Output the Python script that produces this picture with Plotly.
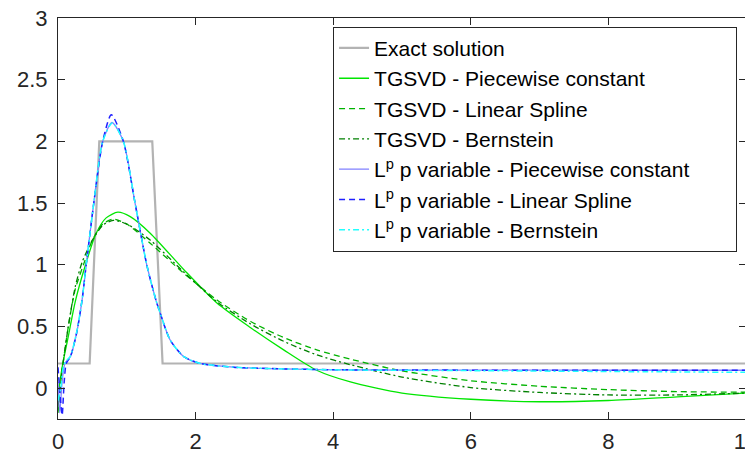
import plotly.graph_objects as go

# exact solution (piecewise constant pulse)
exact_x = [0, 0.46, 0.6, 1.37, 1.52, 10]
exact_y = [0.2, 0.2, 2.0, 2.0, 0.2, 0.2]

# TGSVD reconstructions
tg_pc_x = [0, 0.07, 0.15, 0.25, 0.4, 0.55, 0.7, 0.87, 1.05, 1.34, 1.83, 2.31, 2.8, 3.28, 3.76, 4.25, 5.0, 6.0, 7.0, 8.0, 9.0, 10]
tg_pc_y = [-0.05, 0.2, 0.42, 0.7, 1.0, 1.25, 1.38, 1.426, 1.39, 1.256, 0.96, 0.69, 0.49, 0.31, 0.145, 0.05, -0.04, -0.09, -0.11, -0.1, -0.07, -0.04]

tg_ls_x = [0, 0.05, 0.15, 0.25, 0.37, 0.5, 0.65, 0.8, 1.0, 1.34, 1.83, 2.31, 2.8, 3.28, 3.76, 4.25, 5.0, 6.0, 7.0, 8.0, 9.0, 10]
tg_ls_y = [-0.2, 0.1, 0.5, 0.8, 1.0, 1.2, 1.33, 1.37, 1.33, 1.175, 0.93, 0.715, 0.54, 0.41, 0.31, 0.235, 0.14, 0.06, 0.015, -0.012, -0.028, -0.033]

tg_bs_x = [0, 0.05, 0.15, 0.25, 0.35, 0.5, 0.65, 0.8, 1.0, 1.34, 1.83, 2.31, 2.8, 3.28, 3.76, 4.25, 5.0, 6.0, 7.0, 8.0, 9.0, 10]
tg_bs_y = [-0.15, 0.1, 0.5, 0.82, 1.02, 1.2, 1.32, 1.36, 1.33, 1.2, 0.94, 0.7, 0.52, 0.38, 0.27, 0.19, 0.09, 0.005, -0.035, -0.055, -0.055, -0.04]

# L^p variable exponent reconstructions
lp_pc_x = [0, 0.025, 0.06, 0.1, 0.18, 0.27, 0.35, 0.41, 0.52, 0.65, 0.785, 0.95, 1.12, 1.29, 1.42, 1.49, 1.63, 1.83, 2.07, 2.55, 3.28, 4.25, 6, 8, 10]
lp_pc_y = [0.05, -0.2, 0.05, 0.2, 0.255, 0.445, 0.715, 1.0, 1.5, 2.0, 2.153, 2.0, 1.5, 1.0, 0.72, 0.6, 0.39, 0.255, 0.2, 0.17, 0.156, 0.148, 0.146, 0.145, 0.145]

lp_ls_x = [0, 0.03, 0.06, 0.09, 0.12, 0.18, 0.27, 0.35, 0.41, 0.52, 0.65, 0.775, 0.95, 1.12, 1.29, 1.42, 1.49, 1.63, 1.83, 2.07, 2.55, 3.28, 4.25, 6, 8, 10]
lp_ls_y = [0.17, -0.05, -0.22, 0.05, 0.2, 0.255, 0.445, 0.715, 1.0, 1.5, 2.0, 2.216, 2.0, 1.5, 1.0, 0.72, 0.6, 0.39, 0.255, 0.2, 0.17, 0.156, 0.148, 0.146, 0.145, 0.145]

lp_bs_x = [0, 0.04, 0.08, 0.12, 0.18, 0.27, 0.35, 0.41, 0.52, 0.65, 0.79, 0.95, 1.12, 1.29, 1.42, 1.49, 1.63, 1.83, 2.07, 2.55, 3.28, 4.25, 6, 8, 10]
lp_bs_y = [-0.1, 0.0, 0.18, 0.22, 0.26, 0.45, 0.715, 1.0, 1.5, 2.0, 2.15, 2.0, 1.5, 1.0, 0.72, 0.6, 0.39, 0.255, 0.2, 0.17, 0.156, 0.147, 0.142, 0.135, 0.128]

x_ticks = [0, 2, 4, 6, 8, 10]
y_ticks = [0, 0.5, 1, 1.5, 2, 2.5, 3]
y_tick_text = ["0", "0.5", "1", "1.5", "2", "2.5", "3"]

DASH = "6px,4px"
DASHDOT = "6px,3px,2px,3px"
PAD = "\u00a0" * 7  # matlab legend box leaves room on the right

series = [
    (exact_x, exact_y, "Exact solution", "#b3b3b3", "solid", 2.2, "linear"),
    (tg_pc_x, tg_pc_y, "TGSVD - Piecewise constant", "#00e600", "solid", 1.3, "spline"),
    (tg_ls_x, tg_ls_y, "TGSVD - Linear Spline", "#00b300", DASH, 1.3, "spline"),
    (tg_bs_x, tg_bs_y, "TGSVD - Bernstein", "#008000", DASHDOT, 1.3, "spline"),
    (lp_pc_x, lp_pc_y, "L<sup>p</sup> p variable - Piecewise constant" + PAD, "#8080ff", "solid", 1.3, "spline"),
    (lp_ls_x, lp_ls_y, "L<sup>p</sup> p variable - Linear Spline", "#2020ff", DASH, 1.5, "spline"),
    (lp_bs_x, lp_bs_y, "L<sup>p</sup> p variable - Bernstein", "#20ffff", DASHDOT, 1.5, "spline"),
]

fig = go.Figure()
for xs, ys, name, color, dash, width, shape in series:
    fig.add_trace(
        go.Scatter(
            x=xs,
            y=ys,
            mode="lines",
            name=name,
            line=dict(color=color, dash=dash, width=width, shape=shape, smoothing=0.7),
        )
    )

axis_common = dict(
    showgrid=False,
    zeroline=False,
    showline=True,
    linecolor="#262626",
    linewidth=1,
    mirror="ticks",
    ticks="inside",
    ticklen=7,
    tickcolor="#262626",
    automargin=False,
    ticklabeloverflow="allow",
    tickfont=dict(family="Liberation Sans, Arial, sans-serif", size=22, color="#262626"),
)

fig.update_xaxes(range=[0, 10], tickvals=x_ticks, ticklabelstandoff=3, **axis_common)
fig.update_yaxes(range=[-0.25, 3], tickvals=y_ticks, ticktext=y_tick_text,
                 ticklabelstandoff=5, **axis_common)

# page body has an 8px margin, so the figure is a bit smaller than the window
fig.update_layout(
    width=745,
    height=445,
    margin=dict(l=50, r=7, t=10, b=34),
    plot_bgcolor="white",
    paper_bgcolor="white",
    font=dict(family="Liberation Sans, Arial, sans-serif", color="black"),
    legend=dict(
        x=0.987,
        y=0.978,
        xanchor="right",
        yanchor="top",
        bgcolor="white",
        bordercolor="#262626",
        borderwidth=1,
        font=dict(size=21, color="black"),
        itemwidth=30,
        tracegroupgap=0,
    ),
)

fig.write_html("out.html")
